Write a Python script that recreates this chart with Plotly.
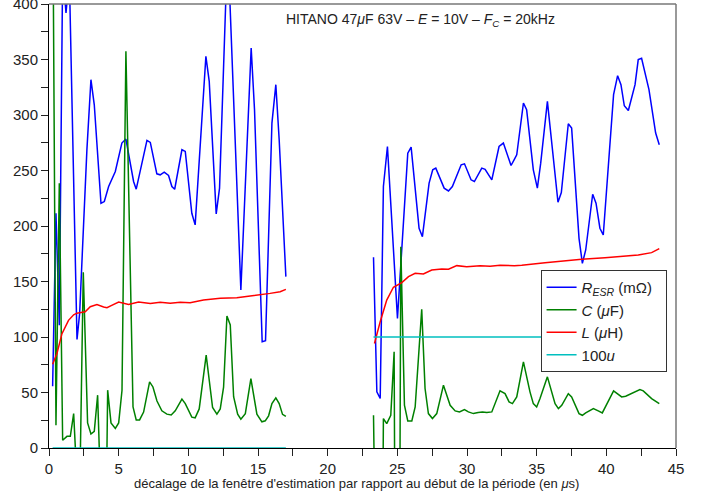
import plotly.graph_objects as go

# ---- R_ESR (mOhm) ----
r1_x = [0.26, 0.50, 0.74, 0.98, 1.22, 1.46, 2.01, 2.20, 2.72, 3.01, 3.25, 3.73, 3.97, 4.28, 4.76, 5.23, 5.52,
        6.07, 6.26, 6.50, 7.03, 7.27, 7.74, 7.98, 8.27, 8.58, 8.82, 9.02, 9.54, 9.78, 10.25, 10.49, 11.26,
        11.50, 12.00, 12.24, 12.72, 12.96, 13.77, 14.51, 14.75, 15.30, 15.54, 16.00, 16.28, 16.52, 17.00]
r1_y = [55.7, 211.5, 110.7, 430, 392, 425, 97.8, 121.3, 268.6, 331.8, 309.2, 220.5, 222.0, 235.6, 249.1, 274.7, 278.3,
        240.1, 233.2, 246.1, 277.1, 275.3, 247.0, 246.1, 248.5, 245.5, 235.6, 233.1, 268.7, 267.2, 211.5, 201.0, 352.9,
        330.3, 210.9, 234.1, 415, 410, 142.3, 360.4, 304.7, 95.7, 96.6, 292.7, 327.3, 277.7, 154.4]
r2_x = [23.29, 23.53, 23.77, 24.00, 24.29, 24.53, 25.01, 25.75, 25.99, 26.56, 26.80, 27.28, 27.54, 27.76, 28.36,
        28.67, 28.95, 29.58, 29.82, 30.29, 30.53, 31.06, 31.30, 31.78, 32.30, 32.61, 33.16, 33.38, 33.57, 34.05,
        34.28, 34.76, 35.05, 35.29, 35.77, 36.53, 36.77, 37.27, 37.51, 38.04, 38.28, 38.52, 39.02, 39.26, 39.54,
        39.78, 40.52, 40.81, 41.05, 41.29, 41.58, 42.06, 42.29, 42.53, 42.77, 43.06, 43.54, 43.80]
r2_y = [171.8, 50.6, 44.6, 235.6, 271.6, 223.5, 116.8, 265.6, 271.0, 198.0, 190.4, 238.6, 250.6, 252.1, 234.1,
        231.6, 235.6, 255.1, 256.0, 241.6, 240.1, 252.1, 251.0, 241.6, 271.6, 274.7, 254.5, 259.6, 264.1, 310.8,
        304.7, 250.6, 234.1, 256.6, 312.3, 221.4, 230.1, 292.1, 288.2, 188.9, 166.4, 178.4, 228.6, 220.5, 198.0,
        191.9, 318.3, 335.4, 327.3, 308.3, 304.1, 327.3, 349.9, 351.1, 339.4, 322.8, 283.7, 273.2]

# ---- C (uF) ----
c1_x = [0.26, 0.50, 0.74, 0.98, 1.29, 1.53, 1.77, 2.01, 2.20, 2.46, 2.77, 3.01, 3.25, 3.49, 3.73, 3.97, 4.21,
        4.45, 4.76, 5.00, 5.24, 5.52, 6.03, 6.26, 6.50, 6.79, 7.22, 7.46, 7.75, 8.10, 8.46, 8.77, 9.06, 9.54,
        9.78, 10.25, 10.49, 10.78, 11.28, 11.74, 12.05, 12.29, 12.53, 12.77, 13.01, 13.25, 13.54, 13.77, 14.09,
        14.49, 14.92, 15.28, 15.52, 15.76, 16.00, 16.28, 16.52, 16.76, 17.00]
c1_y = [520, 20.5, 238.6, 7.0, 10.5, 10.5, 31.0, -30, -45, 158.3, 22.6, 12.6, 15.0, 47.6, -50, -200, 52.1,
        22.6, 17.7, 22.6, 52.0, 357.4, 37.0, 25.3, 25.3, 32.4, 59.6, 55.0, 42.3, 33.5, 30.5, 29.8, 33.5, 44.0,
        40.0, 27.8, 27.2, 35.2, 83.6, 36.5, 30.5, 35.2, 54.8, 118.9, 110.9, 46.2, 30.5, 26.0, 30.9,
        62.6, 30.5, 23.6, 24.5, 29.0, 40.0, 45.1, 40.0, 30.3, 28.4]
c2_x = [23.29, 23.53, 23.77, 24.00, 24.24, 24.53, 24.77, 25.01, 25.25, 25.51, 25.75, 26.04, 26.28, 26.75, 26.99,
        27.23, 27.52, 27.83, 28.31, 28.79, 29.15, 29.46, 29.82, 30.10, 30.46, 30.80, 31.11, 31.42, 31.78, 32.37,
        32.73, 33.02, 33.26, 33.57, 34.05, 34.52, 34.76, 35.00, 35.24, 35.77, 36.32, 36.56, 36.80, 37.27, 37.51,
        38.04, 38.28, 38.52, 39.07, 39.42, 39.71, 40.52, 41.10, 41.39, 42.41, 42.65, 43.25, 43.80]
c2_y = [29.5, -400, -400, 26.5, 22.0, 29.5, 86.7, -600, 181.4, 38.5, 24.4, 24.4, 37.0, 124.9, 53.6,
        31.0, 26.5, 31.0, 56.6, 38.5, 33.4, 32.5, 34.6, 32.5, 31.0, 32.0, 32.5, 31.9, 32.5, 51.5,
        49.0, 41.5, 40.0, 46.0, 77.6, 50.6, 40.0, 37.0, 44.5, 64.1, 40.0, 35.5, 38.5, 49.0, 46.0,
        31.0, 29.5, 31.6, 35.5, 33.4, 31.6, 51.5, 46.0, 46.6, 52.7, 51.5, 44.5, 40.0]

# ---- L (uH) ----
l1_x = [0.26, 0.57, 0.93, 1.40, 1.77, 2.00, 2.20, 2.60, 2.96, 3.44, 3.92, 4.16, 4.50, 5.00, 5.71, 6.43, 7.27,
        7.98, 8.70, 9.42, 10.13, 11.09, 12.29, 13.48, 14.44, 15.16, 15.87, 16.59, 17.00]
l1_y = [75.5, 85.2, 103.0, 115.0, 120.0, 121.5, 121.9, 122.8, 127.3, 129.2, 127.0, 126.4, 128.5, 131.5, 129.2,
        131.6, 130.2, 131.2, 130.3, 131.2, 130.9, 133.3, 134.8, 135.4, 136.9, 137.8, 139.3, 140.8, 142.9]
l2_x = [23.36, 23.77, 24.24, 24.72, 25.32, 25.80, 26.28, 26.87, 27.47, 28.19, 28.67, 29.27, 29.98, 30.94,
        31.66, 32.37, 33.40, 33.93, 35.60, 37.03, 38.23, 39.90, 41.10, 42.29, 43.25, 43.80]
l2_y = [94.2, 113.8, 133.3, 144.8, 149.0, 154.4, 157.4, 156.8, 160.4, 161.3, 161.0, 164.3, 163.4, 164.3,
        163.7, 164.6, 164.3, 164.6, 167.0, 168.8, 170.0, 171.5, 172.4, 173.9, 176.0, 179.6]

# ---- 100u ----
u1_x = [0.26, 17.00]
u1_y = [0, 0]
u2_x = [23.29, 43.80]
u2_y = [100, 100]

x_ticks = [0, 5, 10, 15, 20, 25, 30, 35, 40, 45]
y_ticks = [0, 50, 100, 150, 200, 250, 300, 350, 400]

BLUE, GREEN, RED, CYAN = "#0000ff", "#008000", "#ff0000", "#00bfbf"
LW = 1.5


def cat(xa, ya, xb, yb):
    return list(xa) + [None] + list(xb), list(ya) + [None] + list(yb)


fig = go.Figure()
series = [
    ("<i>R</i><sub><i>ESR</i></sub> (mΩ)\u00a0\u00a0", BLUE, r1_x, r1_y, r2_x, r2_y),
    ("<i>C</i> (<i>μ</i>F)", GREEN, c1_x, c1_y, c2_x, c2_y),
    ("<i>L</i> (<i>μ</i>H)", RED, l1_x, l1_y, l2_x, l2_y),
    ("100<i>u</i>", CYAN, u1_x, u1_y, u2_x, u2_y),
]
for name, col, xa, ya, xb, yb in series:
    xs, ys = cat(xa, ya, xb, yb)
    fig.add_trace(go.Scatter(x=xs, y=ys, mode="lines", name=name,
                             line=dict(color=col, width=LW), connectgaps=False))

fig.update_layout(
    width=707, height=492,
    margin=dict(l=49, r=31, t=4, b=44, autoexpand=False),
    paper_bgcolor="white", plot_bgcolor="white",
    font=dict(family="Liberation Sans, Arial, sans-serif", size=14, color="#222"),
    showlegend=True,
    legend=dict(x=0.784, y=0.401, xanchor="left", yanchor="top",
                bordercolor="#333", borderwidth=1, bgcolor="white",
                font=dict(size=15, family="Liberation Sans, Arial", color="#222"),
                tracegroupgap=0, itemwidth=30),
    xaxis=dict(range=[0, 45], tickvals=x_ticks, ticks="outside", ticklen=7, tickcolor="#222",
               showline=True, linecolor="black", linewidth=1, mirror=False, showgrid=False,
               zeroline=False, tickfont=dict(size=15), ticklabeloverflow="allow",
               minor=dict(dtick=2.5, ticks="outside", ticklen=7, tickcolor="#222", showgrid=False)),
    yaxis=dict(range=[0, 400], tickvals=y_ticks, ticks="outside", ticklen=7, tickcolor="#222",
               showline=True, linecolor="black", linewidth=1, mirror=False, showgrid=False,
               zeroline=False, tickfont=dict(size=15), ticklabeloverflow="allow",
               minor=dict(dtick=25, ticks="outside", ticklen=7, tickcolor="#222", showgrid=False)),
)

# gray top / right frame
fig.add_shape(type="line", xref="paper", yref="paper", x0=0, x1=1, y0=1, y1=1,
              line=dict(color="#777", width=1.5))
fig.add_shape(type="line", xref="paper", yref="paper", x0=1, x1=1, y0=0, y1=1,
              line=dict(color="#777", width=1.5))

fig.add_annotation(
    xref="paper", yref="paper", x=0.593, y=0.965, xanchor="center", yanchor="middle",
    showarrow=False, font=dict(size=14, color="#222"),
    text=("HITANO 47<i>μ</i>F 63V – <i>E</i> = 10V – <i>F</i><sub><i>C</i></sub> = 20kHz"))
fig.add_annotation(
    xref="paper", yref="paper", x=0.49, y=-0.08, xanchor="center", yanchor="middle",
    showarrow=False, font=dict(size=13, color="#222"),
    text="décalage de la fenêtre d'estimation par rapport au début de la période (en <i>μ</i>s)")

fig.write_html("out.html", config={"displayModeBar": False},
               post_script="document.body.style.margin='0';document.body.style.overflow='hidden';")
